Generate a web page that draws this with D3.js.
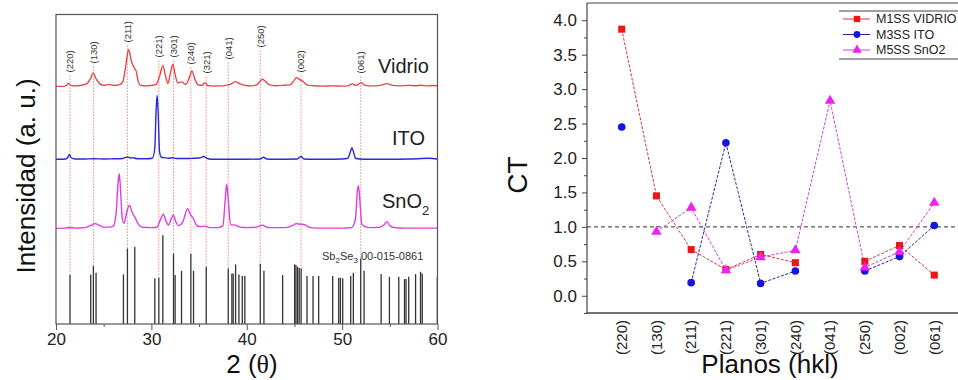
<!DOCTYPE html>
<html>
<head>
<meta charset="utf-8">
<script src="https://cdn.jsdelivr.net/npm/d3@7"></script>
<style>
  body { margin: 0; background: #fff; }
  text { font-family: "Liberation Sans", Arial, sans-serif; }
</style>
</head>
<body>
<script>
// ---------- data: XRD patterns (left) ----------
// [2theta, intensity above the trace baseline] (a.u.)
var vidrio = [[20,0.5],[20.8,0.5],[21.1,1.5],[21.3,3.5],[21.55,1.5],[22,1],[22.6,1.5],[23.2,3],[23.6,8],[23.9,14],[24.2,8],[24.6,3],[25,1.5],[25.6,2.5],[26,1.5],[26.6,2],[27,5],[27.3,20],[27.6,37.5],[27.9,26],[28.2,19],[28.4,16],[28.6,6],[28.9,1.5],[29.5,1],[30,1.5],[30.5,2.5],[30.9,12],[31.2,21.5],[31.5,10],[31.75,3.5],[32,14],[32.25,22.5],[32.5,12],[32.75,4],[33.2,5],[33.6,2.5],[34,10],[34.25,16],[34.55,8],[34.9,2],[35.3,1.5],[35.6,4.3],[35.9,1.5],[36.5,0.8],[37,1],[37.6,1],[37.9,1.8],[38.3,2.5],[38.8,5.3],[39.3,3],[39.8,1.5],[40.5,1],[41,2],[41.35,5],[41.65,7.7],[42,5],[42.4,2],[43,1.2],[43.8,1.5],[44.5,2],[44.9,5.5],[45.2,9.3],[45.6,7],[45.9,5.5],[46.3,2],[47,1.2],[48,0.8],[49,1],[50,0.8],[50.6,1],[51.1,3],[51.4,1.5],[51.7,2.5],[52,4.3],[52.3,2],[52.8,1],[53.5,1],[54.2,2],[54.7,3.3],[55.2,1.8],[56,1],[57,1.5],[57.7,1.2],[58.3,1.6],[59,1],[59.5,1.4],[60,1.2]];

var ito = [[20,0],[21,0.3],[21.25,2],[21.4,4.7],[21.6,1.5],[22,0.3],[23,0.3],[24,0.5],[25,0.3],[26,0.5],[27,0.8],[27.5,2.3],[27.8,1.3],[28.1,1.5],[28.5,0.5],[29.5,0.5],[30.1,1],[30.35,10],[30.5,50],[30.6,64],[30.72,45],[30.85,8],[31.05,2],[31.3,1.7],[31.8,1],[32.2,1.5],[32.6,0.8],[33.3,0.8],[34,0.8],[34.4,1],[35,1.2],[35.5,2.7],[35.8,1],[36.3,0],[38,0],[40,0],[41.4,0.3],[41.75,2],[42.1,0.3],[43,0],[45.3,0.3],[45.7,2.7],[46,0.3],[47,0],[48,0],[50,0.2],[50.6,1],[50.85,7],[51.03,11.7],[51.2,7],[51.4,1],[51.8,0.2],[53,0],[55,0],[57,0.2],[59.1,1],[60,0.3]];

var sno2 = [[20,0.3],[21,0.5],[21.5,1.2],[22,0.5],[23,1],[23.6,3],[24.1,5],[24.6,3],[25,1.5],[25.6,1.5],[26,2.5],[26.3,15],[26.5,45],[26.62,55],[26.75,42],[26.95,10],[27.15,5.5],[27.4,16],[27.7,23.5],[28,16],[28.3,11],[28.6,5],[29,1.5],[30,1],[30.6,1.5],[30.95,9],[31.25,14.5],[31.55,7],[31.8,3.5],[32.05,9],[32.3,13.5],[32.6,6],[32.85,3],[33.3,7],[33.8,20],[34.1,14],[34.4,10],[34.7,4],[35.1,2],[35.65,2.5],[36.1,1],[37,1],[37.5,3],[37.75,30],[37.9,44.5],[38.05,30],[38.3,4],[38.8,3.5],[39.3,1.5],[40,1],[41,1.5],[41.65,3.5],[42.2,1.2],[43,1],[44,1],[44.8,3],[45.2,5],[45.6,4.5],[46.1,4],[46.5,1.5],[47,0.8],[48,0.5],[50,0.5],[51,1],[51.4,10],[51.6,38],[51.7,43],[51.85,30],[52.05,5],[52.4,2],[53,1],[54,1.5],[54.4,4],[54.7,7],[55,3],[55.5,1],[56.5,0.5],[58,0.5],[60,0.5]];

// Sb2Se3 reference card 00-015-0861
var refAngles = [21.47,23.64,23.92,24.2,27.07,27.49,28.26,30.36,30.78,31.2,32.32,32.49,33.16,34.14,34.42,35.75,38.06,38.44,38.58,38.83,39.18,39.53,39.8,41.42,41.8,43.76,45.02,45.16,45.33,45.5,45.7,46.32,46.95,47.54,49.01,49.64,49.82,50.06,50.9,51.18,51.95,52.3,54.09,54.96,55.94,56.54,56.7,56.98,57.7,58.22,58.4,59.98];
var refHeights = [49,49.7,58,51.3,49.7,75.7,77.3,45.7,46.3,89,70.7,49,53.3,70.7,53.3,57.3,55.7,50.7,50.7,59.7,49.7,48,48,60,53.3,49,59.7,59,57.3,56,55.7,48,48,48,48,46.3,46.3,45.7,48,51.3,65.7,53.3,50,47.3,47.3,45,45,47.3,50,52.3,50.7,47.3];

var hklLabels = ["(220)","(130)","(211)","(221)","(301)","(240)","(321)","(041)","(250)","(002)","(061)"];
var hklAngles = [21.47,23.92,27.49,30.78,32.32,34.14,35.75,38.06,41.42,45.7,51.95];
var hklLabelLevel = [252,261,282,267,267,260,251,265,277,252,251];

var xTicksL = [20,30,40,50,60];

// ---------- data: texture coefficient (right) ----------
var planes = ["(220)","(130)","(211)","(221)","(301)","(240)","(041)","(250)","(002)","(061)"];
var m1ssVidrio = [3.87,1.45,0.67,0.38,0.60,0.48,null,0.50,0.73,0.30];
var m3ssIto = [2.45,null,0.19,2.22,0.18,0.36,null,0.36,0.57,1.02];
var m5ssSno2 = [null,0.93,1.28,0.37,0.56,0.66,2.83,0.41,0.64,1.35];
var seriesNames = ["M1SS VIDRIO","M3SS ITO","M5SS SnO2"];
var yTicksR = [0,0.5,1,1.5,2,2.5,3,3.5,4];

var svg = d3.select("body").append("svg")
    .attr("width", 958)
    .attr("height", 380);

// ==================== left panel ====================
var xL = d3.scaleLinear().domain([20, 60]).range([56, 437.5]);
var yL = d3.scaleLinear().domain([0, 310]).range([324, 14.5]);

var left = svg.append("g");

// hkl guide lines (dotted) from the label down to the reference stick
hklAngles.forEach(function(a, i) {
    var k = d3.minIndex(refAngles, function(r) { return Math.abs(r - a); });
    left.append("line")
        .attr("x1", xL(a)).attr("x2", xL(a))
        .attr("y1", yL(hklLabelLevel[i]) + 3)
        .attr("y2", yL(refHeights[k]))
        .attr("stroke", "#f08a8a")
        .attr("stroke-width", 1)
        .attr("stroke-dasharray", "1.5,1.5");
    left.append("text")
        .attr("transform", "translate(" + xL(a) + "," + yL(hklLabelLevel[i]) + ") rotate(-90)")
        .attr("dy", "0.35em")
        .attr("font-size", 9.5)
        .attr("fill", "#333")
        .text(hklLabels[i]);
});

// reference sticks
left.selectAll("line.stick")
    .data(refAngles)
    .enter().append("line")
    .attr("class", "stick")
    .attr("x1", function(d) { return xL(d); })
    .attr("x2", function(d) { return xL(d); })
    .attr("y1", yL(0))
    .attr("y2", function(d, i) { return yL(refHeights[i]); })
    .attr("stroke", "#333")
    .attr("stroke-width", 1.3);

// traces, each stacked on its own baseline
var traces = [
    {data: vidrio, offset: 237.5, color: "#e8474a"},
    {data: ito, offset: 165, color: "#2a2ad8"},
    {data: sno2, offset: 95.5, color: "#e03ce0"}
];
traces.forEach(function(t) {
    var line = d3.line()
        .x(function(d) { return xL(d[0]); })
        .y(function(d) { return yL(d[1] + t.offset); })
        .curve(d3.curveMonotoneX);
    left.append("path")
        .datum(t.data)
        .attr("d", line)
        .attr("fill", "none")
        .attr("stroke", t.color)
        .attr("stroke-width", 1.4);
});

// sample names
left.append("text").attr("x", 378).attr("y", 73).attr("font-size", 20).attr("fill", "#222").text("Vidrio");
left.append("text").attr("x", 392).attr("y", 145).attr("font-size", 20).attr("fill", "#222").text("ITO");
var snLabel = left.append("text").attr("x", 382).attr("y", 208).attr("font-size", 20).attr("fill", "#222");
snLabel.append("tspan").text("SnO");
snLabel.append("tspan").attr("font-size", 13).attr("dy", 7).text("2");

var card = left.append("text").attr("x", 322).attr("y", 260).attr("font-size", 11).attr("fill", "#333");
card.append("tspan").text("Sb");
card.append("tspan").attr("font-size", 8).attr("dy", 3).text("2");
card.append("tspan").attr("dy", -3).text("Se");
card.append("tspan").attr("font-size", 8).attr("dy", 3).text("3");
card.append("tspan").attr("dy", -3).text(" 00-015-0861");

// frame
left.append("rect")
    .attr("x", 56).attr("y", 14.5)
    .attr("width", 381.5).attr("height", 309.5)
    .attr("fill", "none")
    .attr("stroke", "#555")
    .attr("stroke-width", 1.2);

var xAxisL = d3.axisBottom(xL).tickValues(xTicksL).tickSize(6).tickPadding(3).tickFormat(d3.format("d"));
var gxL = left.append("g").attr("transform", "translate(0,324)").call(xAxisL);
gxL.select(".domain").remove();
gxL.selectAll("line").attr("stroke", "#555");
gxL.selectAll("text").attr("font-size", 17).attr("fill", "#222").style("font-family", "Liberation Sans, Arial, sans-serif");
left.append("g").attr("transform", "translate(0,324)")
    .call(d3.axisBottom(xL).tickValues([25,35,45,55]).tickSize(3).tickFormat(""))
    .call(function(g) { g.select(".domain").remove(); g.selectAll("line").attr("stroke", "#555"); });

var xt = left.append("text")
    .attr("x", 252).attr("y", 373)
    .attr("text-anchor", "middle")
    .attr("font-size", 26).attr("fill", "#111");
xt.append("tspan").text("2 (");
xt.append("tspan").style("font-family", "Liberation Serif, serif").text("θ");
xt.append("tspan").text(")");

left.append("text")
    .attr("transform", "translate(35,176) rotate(-90)")
    .attr("text-anchor", "middle")
    .attr("font-size", 26).attr("fill", "#111")
    .text("Intensidad (a. u.)");

// ==================== right panel ====================
var xR = d3.scalePoint().domain(planes).range([587, 969]).padding(1);
var yR = d3.scaleLinear().domain([-0.25, 4.25]).range([313, 3]);

var right = svg.append("g");

// reference line at CT = 1
right.append("line")
    .attr("x1", 587).attr("x2", 958)
    .attr("y1", yR(1)).attr("y2", yR(1))
    .attr("stroke", "#333")
    .attr("stroke-width", 1)
    .attr("stroke-dasharray", "4,3");

var series = [
    {name: seriesNames[0], values: m1ssVidrio, color: "#ee1515", line: "#d03a3a", shape: d3.symbolSquare, size: 50},
    {name: seriesNames[1], values: m3ssIto, color: "#1515dd", line: "#2a2a9a", shape: d3.symbolCircle, size: 46},
    {name: seriesNames[2], values: m5ssSno2, color: "#ee22ee", line: "#d040d0", shape: d3.symbolTriangle, size: 48}
];

series.forEach(function(s) {
    var line = d3.line()
        .defined(function(d) { return d != null; })
        .x(function(d, i) { return xR(planes[i]); })
        .y(function(d) { return yR(d); });
    right.append("path")
        .datum(s.values)
        .attr("d", line)
        .attr("fill", "none")
        .attr("stroke", s.line)
        .attr("stroke-width", 1)
        .attr("stroke-dasharray", "3,1.5");
});

series.forEach(function(s) {
    right.selectAll(null)
        .data(s.values.map(function(v, i) { return {v: v, p: planes[i]}; }).filter(function(d) { return d.v != null; }))
        .enter().append("path")
        .attr("d", d3.symbol().type(s.shape).size(s.size))
        .attr("transform", function(d) { return "translate(" + xR(d.p) + "," + yR(d.v) + ")"; })
        .attr("fill", s.color);
});

// axes
var yAxisR = d3.axisLeft(yR).tickValues(yTicksR).tickSize(5).tickPadding(5).tickFormat(d3.format(".1f"));
var gyR = right.append("g").attr("transform", "translate(587,0)").call(yAxisR);
gyR.select(".domain").remove();
gyR.selectAll("line").attr("stroke", "#444");
gyR.selectAll("text").attr("font-size", 17).attr("fill", "#222").style("font-family", "Liberation Sans, Arial, sans-serif");
right.append("g").attr("transform", "translate(587,0)")
    .call(d3.axisLeft(yR).tickValues([-0.25,0.25,0.75,1.25,1.75,2.25,2.75,3.25,3.75]).tickSize(3).tickFormat(""))
    .call(function(g) { g.select(".domain").remove(); g.selectAll("line").attr("stroke", "#444"); });

right.append("line").attr("x1", 587).attr("x2", 587).attr("y1", 3).attr("y2", 313.5).attr("stroke", "#444").attr("stroke-width", 1.2);
right.append("line").attr("x1", 586.5).attr("x2", 958).attr("y1", 313).attr("y2", 313).attr("stroke", "#444").attr("stroke-width", 1.4);
right.append("line").attr("x1", 587).attr("x2", 958).attr("y1", 3).attr("y2", 3).attr("stroke", "#444").attr("stroke-width", 1);

right.selectAll("text.plane")
    .data(planes)
    .enter().append("text")
    .attr("class", "plane")
    .attr("transform", function(d) { return "translate(" + xR(d) + ",320) rotate(-90)"; })
    .attr("text-anchor", "end")
    .attr("dy", "0.35em")
    .attr("font-size", 15)
    .attr("fill", "#222")
    .text(function(d) { return d; });

right.append("text")
    .attr("x", 770).attr("y", 373)
    .attr("text-anchor", "middle")
    .attr("font-size", 26).attr("fill", "#111")
    .text("Planos (hkl)");

right.append("text")
    .attr("transform", "translate(527,175) rotate(-90)")
    .attr("text-anchor", "middle")
    .attr("font-size", 28).attr("fill", "#111")
    .text("CT");

// legend
var legend = right.append("g");
legend.append("line").attr("x1", 839).attr("x2", 958).attr("y1", 11).attr("y2", 11).attr("stroke", "#444");
legend.append("line").attr("x1", 839).attr("x2", 958).attr("y1", 59).attr("y2", 59).attr("stroke", "#444");
series.forEach(function(s, i) {
    var ly = 19 + i * 15.5;
    legend.append("line")
        .attr("x1", 843).attr("x2", 870)
        .attr("y1", ly).attr("y2", ly)
        .attr("stroke", s.line).attr("stroke-width", 1);
    legend.append("path")
        .attr("d", d3.symbol().type(s.shape).size(s.size * 0.8))
        .attr("transform", "translate(857," + ly + ")")
        .attr("fill", s.color);
    legend.append("text")
        .attr("x", 876).attr("y", ly)
        .attr("dy", "0.35em")
        .attr("font-size", 12.5)
        .attr("fill", "#222")
        .text(s.name);
});
</script>
</body>
</html>
